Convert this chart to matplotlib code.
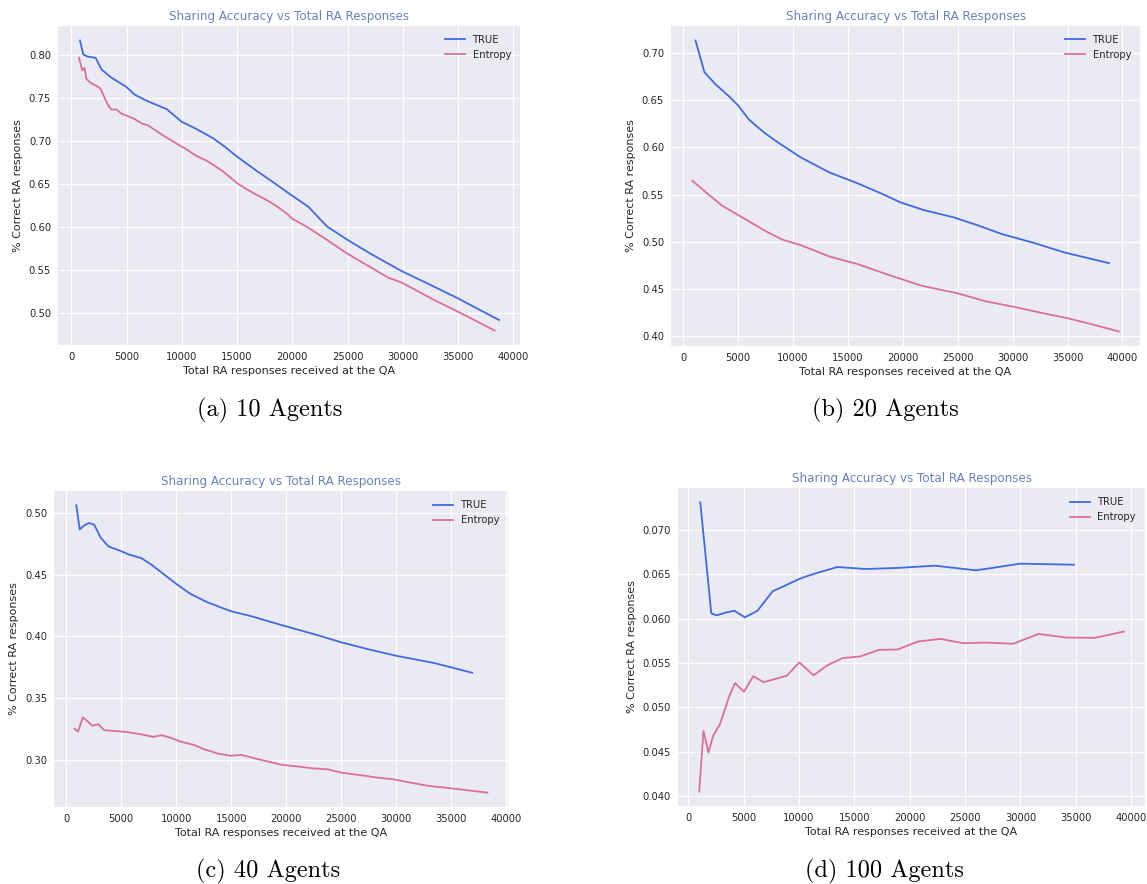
import matplotlib
matplotlib.use("Agg")
import matplotlib.pyplot as plt

# ---------------- data ----------------
title = "Sharing Accuracy vs Total RA Responses"
xlabel = "Total RA responses received at the QA"
ylabel = "% Correct RA responses"
series_names = ["TRUE", "Entropy"]
captions = ["(a) 10 Agents", "(b) 20 Agents", "(c) 40 Agents", "(d) 100 Agents"]

# (a) 10 agents
a_true_x = [780, 1080, 1440, 2190, 2730, 3540, 4980, 5730, 6840, 8640, 9990, 11340,
            12840, 13890, 15000, 16740, 18540, 19740, 21446, 23138, 24923, 26985,
            29908, 32831, 34985, 38700]
a_true_y = [0.8174, 0.8012, 0.7988, 0.7973, 0.7838, 0.7749, 0.7633, 0.7544, 0.7471,
            0.7374, 0.7228, 0.7143, 0.7035, 0.6938, 0.6822, 0.6660, 0.6500, 0.6390,
            0.6240, 0.6010, 0.5860, 0.5700, 0.5490, 0.5310, 0.5174, 0.4922]
a_ent_x = [690, 990, 1080, 1200, 1350, 1740, 2340, 2640, 2880, 3150, 3390, 3600, 4080,
           4530, 4980, 5640, 6390, 6900, 7590, 8490, 9240, 9990, 10290, 11040, 11640,
           12240, 12840, 13740, 15000, 15840, 16740, 17640, 18540, 19440, 20000, 21446,
           23138, 24923, 26985, 28677, 29908, 32831, 34985, 38300]
a_ent_y = [0.7973, 0.7826, 0.7846, 0.7853, 0.7730, 0.7680, 0.7641, 0.7614, 0.7544,
           0.7467, 0.7409, 0.7371, 0.7371, 0.7324, 0.7301, 0.7266, 0.7208, 0.7189,
           0.7131, 0.7054, 0.6996, 0.6938, 0.6919, 0.6853, 0.6811, 0.6776, 0.6726,
           0.6649, 0.6514, 0.6445, 0.6380, 0.6320, 0.6250, 0.6165, 0.6100, 0.5996,
           0.5853, 0.5698, 0.5543, 0.5415, 0.5357, 0.5155, 0.5019, 0.4800]

# (b) 20 agents
b_true_x = [1136, 1947, 2920, 4218, 5030, 6003, 7463, 8761, 10708, 13304, 15900, 18172,
            19793, 21902, 24660, 26932, 29041, 31799, 34720, 38788]
b_true_y = [0.7131, 0.6795, 0.6672, 0.6537, 0.6442, 0.6294, 0.6149, 0.6043, 0.5895,
            0.5736, 0.5619, 0.5506, 0.5418, 0.5337, 0.5259, 0.5171, 0.5082, 0.4994,
            0.4888, 0.4775]
b_ent_x = [844, 2271, 3569, 4867, 6165, 7625, 9086, 10708, 13304, 15900, 18496, 21740,
           25016, 27581, 30016, 32772, 35016, 37315, 39656]
b_ent_y = [0.5648, 0.5506, 0.5383, 0.5294, 0.5206, 0.5107, 0.5022, 0.4966, 0.4846,
           0.4765, 0.4659, 0.4535, 0.4455, 0.4370, 0.4315, 0.4245, 0.4192, 0.4125,
           0.4052]

# (c) 40 agents
c_true_x = [924, 1232, 1601, 2063, 2556, 3140, 3848, 4834, 5757, 6835, 7759, 8836,
            10006, 11299, 12839, 14994, 16841, 18689, 20844, 22999, 25000, 27617,
            29988, 33467, 36915]
c_true_y = [0.5062, 0.4867, 0.4897, 0.4919, 0.4905, 0.4800, 0.4729, 0.4697, 0.4662,
            0.4635, 0.4581, 0.4507, 0.4426, 0.4345, 0.4277, 0.4204, 0.4164, 0.4115,
            0.4061, 0.4007, 0.3953, 0.3893, 0.3844, 0.3785, 0.3706]
c_ent_x = [770, 1078, 1509, 1847, 2371, 2925, 3448, 4218, 5450, 6681, 7913, 8683, 9452,
           10376, 11607, 12531, 13762, 14994, 15917, 17457, 19612, 21152, 22384, 23769,
           25000, 27310, 28233, 29772, 31311, 33005, 35006, 38300]
c_ent_y = [0.3252, 0.3230, 0.3344, 0.3322, 0.3276, 0.3290, 0.3241, 0.3236, 0.3227,
           0.3209, 0.3187, 0.3200, 0.3181, 0.3149, 0.3122, 0.3087, 0.3052, 0.3033,
           0.3041, 0.3006, 0.2960, 0.2946, 0.2932, 0.2924, 0.2897, 0.2870, 0.2857,
           0.2843, 0.2816, 0.2789, 0.2770, 0.2735]

# (d) 100 agents
d_true_x = [1090, 2083, 2564, 3365, 4167, 5128, 6250, 7628, 8814, 10096, 11218, 13462,
            16026, 18750, 22276, 25962, 27404, 29968, 34840]
d_true_y = [0.07305, 0.06058, 0.06036, 0.06066, 0.06088, 0.06013, 0.06088, 0.06307,
            0.06374, 0.06449, 0.06497, 0.06579, 0.06557, 0.06568, 0.06594, 0.06542,
            0.06568, 0.06617, 0.06605]
d_ent_x = [994, 1378, 1827, 2244, 2885, 3686, 4231, 5032, 5865, 6827, 7853, 8910, 10032,
           11314, 12596, 13942, 15545, 17212, 18910, 20737, 22756, 24840, 26923, 29327,
           31635, 34135, 36699, 39327]
d_ent_y = [0.04055, 0.04736, 0.04494, 0.04680, 0.04818, 0.05120, 0.05276, 0.05176,
           0.05351, 0.05284, 0.05321, 0.05358, 0.05507, 0.05362, 0.05477, 0.05555,
           0.05574, 0.05648, 0.05652, 0.05741, 0.05771, 0.05723, 0.05730, 0.05716,
           0.05827, 0.05786, 0.05783, 0.05853]

x_ticks = [0, 5000, 10000, 15000, 20000, 25000, 30000, 35000, 40000]
y_ticks = [
    [0.50, 0.55, 0.60, 0.65, 0.70, 0.75, 0.80],
    [0.40, 0.45, 0.50, 0.55, 0.60, 0.65, 0.70],
    [0.30, 0.35, 0.40, 0.45, 0.50],
    [0.040, 0.045, 0.050, 0.055, 0.060, 0.065, 0.070],
]
y_fmt = ["{:.2f}", "{:.2f}", "{:.2f}", "{:.3f}"]

panels = [
    (a_true_x, a_true_y, a_ent_x, a_ent_y),
    (b_true_x, b_true_y, b_ent_x, b_ent_y),
    (c_true_x, c_true_y, c_ent_x, c_ent_y),
    (d_true_x, d_true_y, d_ent_x, d_ent_y),
]

# ---------------- layout (pixels) ----------------
W, H = 1147, 884
boxes = [  # left, top, right, bottom
    (58, 26, 520, 345),
    (671, 26, 1140, 346),
    (54, 491, 508, 807),
    (678, 488, 1145, 806),
]
caption_pos = [(270, 410), (885, 410), (268, 871), (884, 871)]

plt.rcParams.update({
    "font.family": "DejaVu Sans",
    "axes.facecolor": "#EAEAF2",
    "axes.edgecolor": "white",
    "grid.color": "white",
    "grid.linewidth": 0.8,
    "text.color": ".15",
    "axes.labelcolor": ".15",
    "xtick.color": ".15",
    "ytick.color": ".15",
    "axes.unicode_minus": False,
})

fig = plt.figure(figsize=(W / 100, H / 100), dpi=100)
fig.patch.set_facecolor("white")

true_color = "royalblue"
ent_color = "palevioletred"

for i, (tx, ty, ex, ey) in enumerate(panels):
    l, t, r, b = boxes[i]
    ax = fig.add_axes([l / W, 1 - b / H, (r - l) / W, (b - t) / H])
    ax.plot(tx, ty, color=true_color, lw=1.3, label=series_names[0])
    ax.plot(ex, ey, color=ent_color, lw=1.3, label=series_names[1])
    ax.set_xticks(x_ticks)
    ax.set_xticklabels([str(v) for v in x_ticks])
    ax.set_yticks(y_ticks[i])
    ax.set_yticklabels([y_fmt[i].format(v) for v in y_ticks[i]])
    ax.grid(True, color="white", linewidth=0.8)
    ax.set_axisbelow(True)
    for s in ax.spines.values():
        s.set_visible(False)
    ax.tick_params(length=0, pad=5, labelsize=7.2)
    ax.set_title(title, color="#6681bd", fontsize=8.6, pad=4)
    ax.set_xlabel(xlabel, fontsize=8, labelpad=3)
    ax.set_ylabel(ylabel, fontsize=8, labelpad=4)
    ax.legend(loc="upper right", frameon=False, fontsize=7.2)
    cx, cy = caption_pos[i]
    fig.text(cx / W, 1 - cy / H, captions[i], ha="center", va="center",
             fontsize=17.5, color="black", family=["cmr10", "DejaVu Serif"])

fig.savefig("out.png", dpi=100, facecolor="white")
